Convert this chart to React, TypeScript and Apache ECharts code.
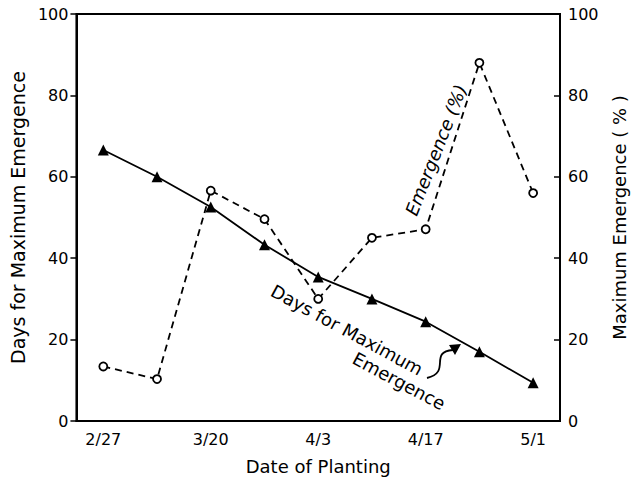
import React, { useEffect, useRef } from "react";
import * as echarts from "echarts";

const dates = ["2/27", "3/10", "3/20", "3/27", "4/3", "4/10", "4/17", "4/24", "5/1"];
const daysForMaxEmergence = [66.6, 60.0, 52.6, 43.3, 35.4, 30.0, 24.4, 17.0, 9.4];
const maxEmergencePct = [13.4, 10.3, 56.6, 49.6, 30.0, 45.0, 47.1, 88.0, 56.0];
const yTicks = { min: 0, max: 100, interval: 20 };

const FONT = "'DejaVu Sans', sans-serif";

export default function App() {
  const ref = useRef<HTMLDivElement>(null);
  useEffect(() => {
    if (!ref.current) return;
    const chart = echarts.init(ref.current, null, { renderer: "svg" });
    chart.setOption({
      animation: false,
      backgroundColor: "#fff",
      textStyle: { fontFamily: FONT, color: "#000" },
      grid: {
        left: 74,
        right: 82,
        top: 14,
        bottom: 63,
        show: true,
        borderColor: "#000",
        borderWidth: 2,
        backgroundColor: "transparent",
      },
      xAxis: {
        type: "category",
        data: dates,
        boundaryGap: true,
        name: "Date of Planting",
        nameLocation: "middle",
        nameGap: 36,
        nameTextStyle: { fontSize: 18, color: "#000", fontFamily: FONT },
        axisLine: { lineStyle: { color: "#000", width: 2 } },
        axisTick: { inside: true, alignWithLabel: true, length: 6, lineStyle: { color: "#000", width: 1.5 } },
        axisLabel: { interval: 1, fontSize: 16, color: "#000", margin: 10, fontFamily: FONT },
        splitLine: { show: false },
      },
      yAxis: [
        {
          type: "value",
          min: yTicks.min,
          max: yTicks.max,
          interval: yTicks.interval,
          name: "Days for Maximum Emergence",
          nameLocation: "middle",
          nameGap: 39,
          nameTextStyle: { fontSize: 19, color: "#000", fontFamily: FONT },
          axisLine: { show: true, lineStyle: { color: "#000", width: 2 } },
          axisTick: { show: true, length: 6, lineStyle: { color: "#000", width: 1.5 } },
          axisLabel: { fontSize: 16, color: "#000", margin: 8, fontFamily: FONT },
          splitLine: { show: false },
        },
        {
          type: "value",
          min: yTicks.min,
          max: yTicks.max,
          interval: yTicks.interval,
          position: "right",
          name: "Maximum Emergence ( % )",
          nameLocation: "middle",
          nameGap: 50,
          nameRotate: 90,
          nameTextStyle: { fontSize: 18, color: "#000", fontFamily: FONT },
          axisLine: { show: true, lineStyle: { color: "#000", width: 2 } },
          axisTick: { show: true, inside: true, length: 6, lineStyle: { color: "#000", width: 1.5 } },
          axisLabel: { fontSize: 16, color: "#000", margin: 8, fontFamily: FONT },
          splitLine: { show: false },
        },
      ],
      series: [
        {
          name: "Days for Maximum Emergence",
          type: "line",
          yAxisIndex: 0,
          data: daysForMaxEmergence,
          symbol: "triangle",
          symbolSize: 11,
          itemStyle: { color: "#000" },
          lineStyle: { color: "#000", width: 1.8 },
          z: 3,
        },
        {
          name: "Emergence (%)",
          type: "line",
          yAxisIndex: 1,
          data: maxEmergencePct,
          symbol: "circle",
          symbolSize: 8,
          showAllSymbol: true,
          itemStyle: { color: "#fff", borderColor: "#000", borderWidth: 1.8 },
          lineStyle: { color: "#000", width: 1.8, type: [7, 5] },
          z: 4,
        },
      ],
      graphic: [
        {
          type: "text",
          x: 436,
          y: 150,
          rotation: (68.6 * Math.PI) / 180,
          style: {
            text: "Emergence (%)",
            fontSize: 18,
            fontStyle: "italic",
            fontFamily: FONT,
            fill: "#000",
            align: "center",
            verticalAlign: "middle",
          },
          z: 10,
        },
        {
          type: "text",
          x: 347,
          y: 330,
          rotation: (-28.5 * Math.PI) / 180,
          style: {
            text: "Days for Maximum",
            fontSize: 18,
            fontFamily: FONT,
            fill: "#000",
            align: "center",
            verticalAlign: "middle",
          },
          z: 10,
        },
        {
          type: "text",
          x: 399,
          y: 381,
          rotation: (-28 * Math.PI) / 180,
          style: {
            text: "Emergence",
            fontSize: 18,
            fontFamily: FONT,
            fill: "#000",
            align: "center",
            verticalAlign: "middle",
          },
          z: 10,
        },
        {
          type: "bezierCurve",
          shape: { x1: 427, y1: 378, cpx1: 452, cpy1: 372, cpx2: 428, cpy2: 352, x2: 453, y2: 350 },
          style: { stroke: "#000", lineWidth: 1.8, fill: null },
          z: 10,
        },
        {
          type: "polygon",
          shape: { points: [[461, 344], [449, 345], [455, 355]] },
          style: { fill: "#000" },
          z: 10,
        },
      ],
    });
    return () => chart.dispose();
  }, []);
  return (
    <div
      ref={ref}
      style={{ position: "absolute", left: 0, top: 0, width: 642, height: 484 }}
    />
  );
}
